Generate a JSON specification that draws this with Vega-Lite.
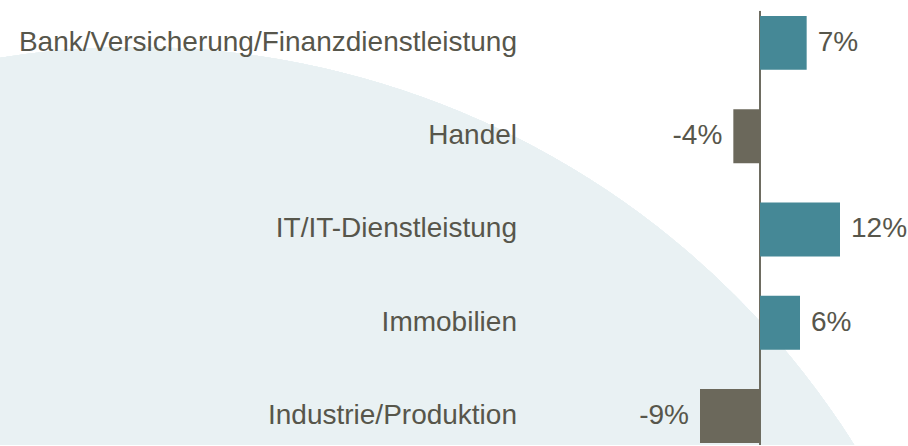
{
  "$schema": "https://vega.github.io/schema/vega-lite/v6.json",
  "width": 908,
  "height": 446,
  "autosize": {"type": "fit", "contains": "padding"},
  "padding": 0,
  "background": "white",
  "config": {
    "view": {"stroke": null},
    "font": "Liberation Sans",
    "locale": {"number": {"decimal": ".", "thousands": ",", "grouping": [3], "currency": ["$", ""], "minus": "-", "percent": "%"}}
  },
  "data": {
    "values": [
      {"branche": "Bank/Versicherung/Finanzdienstleistung", "value": 0.07},
      {"branche": "Handel", "value": -0.04},
      {"branche": "IT/IT-Dienstleistung", "value": 0.12},
      {"branche": "Immobilien", "value": 0.06},
      {"branche": "Industrie/Produktion", "value": -0.09}
    ]
  },
  "resolve": {"scale": {"y": "independent"}},
  "layer": [
    {
      "mark": {"type": "point", "shape": "circle", "filled": true, "clip": true, "opacity": 1, "color": "#e9f1f3"},
      "encoding": {
        "x": {"datum": -0.9375, "type": "quantitative", "scale": {"domain": [-1.14, 0.222], "nice": false, "zero": false}, "axis": null},
        "y": {"datum": -452, "type": "quantitative", "scale": {"domain": [0, 446], "nice": false, "zero": false}, "axis": null},
        "size": {"value": 2883204}
      }
    },
    {
      "mark": {"type": "rule", "color": "#6b685c", "strokeWidth": 1},
      "encoding": {
        "x": {"datum": 0, "type": "quantitative"},
        "y": {"datum": 435, "type": "quantitative", "scale": {"domain": [0, 446], "nice": false, "zero": false}, "axis": null},
        "y2": {"datum": 0}
      }
    },
    {
      "encoding": {
        "y": {"field": "branche", "type": "nominal", "sort": null, "axis": null,
              "scale": {"paddingInner": 0.422, "paddingOuter": 0.096, "align": 0.889}}
      },
      "layer": [
        {
          "mark": {"type": "bar"},
          "encoding": {
            "x": {"field": "value", "type": "quantitative"},
            "x2": {"datum": 0},
            "color": {"condition": {"test": "datum.value > 0", "value": "#458896"}, "value": "#6b685b"}
          }
        },
        {
          "mark": {"type": "text", "align": "right", "baseline": "middle", "fontSize": 28, "color": "#57564b"},
          "encoding": {
            "x": {"datum": -0.3645, "type": "quantitative"},
            "text": {"field": "branche"}
          }
        },
        {
          "transform": [{"filter": "datum.value > 0"}],
          "mark": {"type": "text", "align": "left", "baseline": "middle", "fontSize": 28, "dx": 11, "color": "#57564b"},
          "encoding": {
            "x": {"field": "value", "type": "quantitative"},
            "text": {"field": "value", "format": ".0%"}
          }
        },
        {
          "transform": [{"filter": "datum.value < 0"}],
          "mark": {"type": "text", "align": "right", "baseline": "middle", "fontSize": 28, "dx": -11, "color": "#57564b"},
          "encoding": {
            "x": {"field": "value", "type": "quantitative"},
            "text": {"field": "value", "format": ".0%"}
          }
        }
      ]
    }
  ]
}
